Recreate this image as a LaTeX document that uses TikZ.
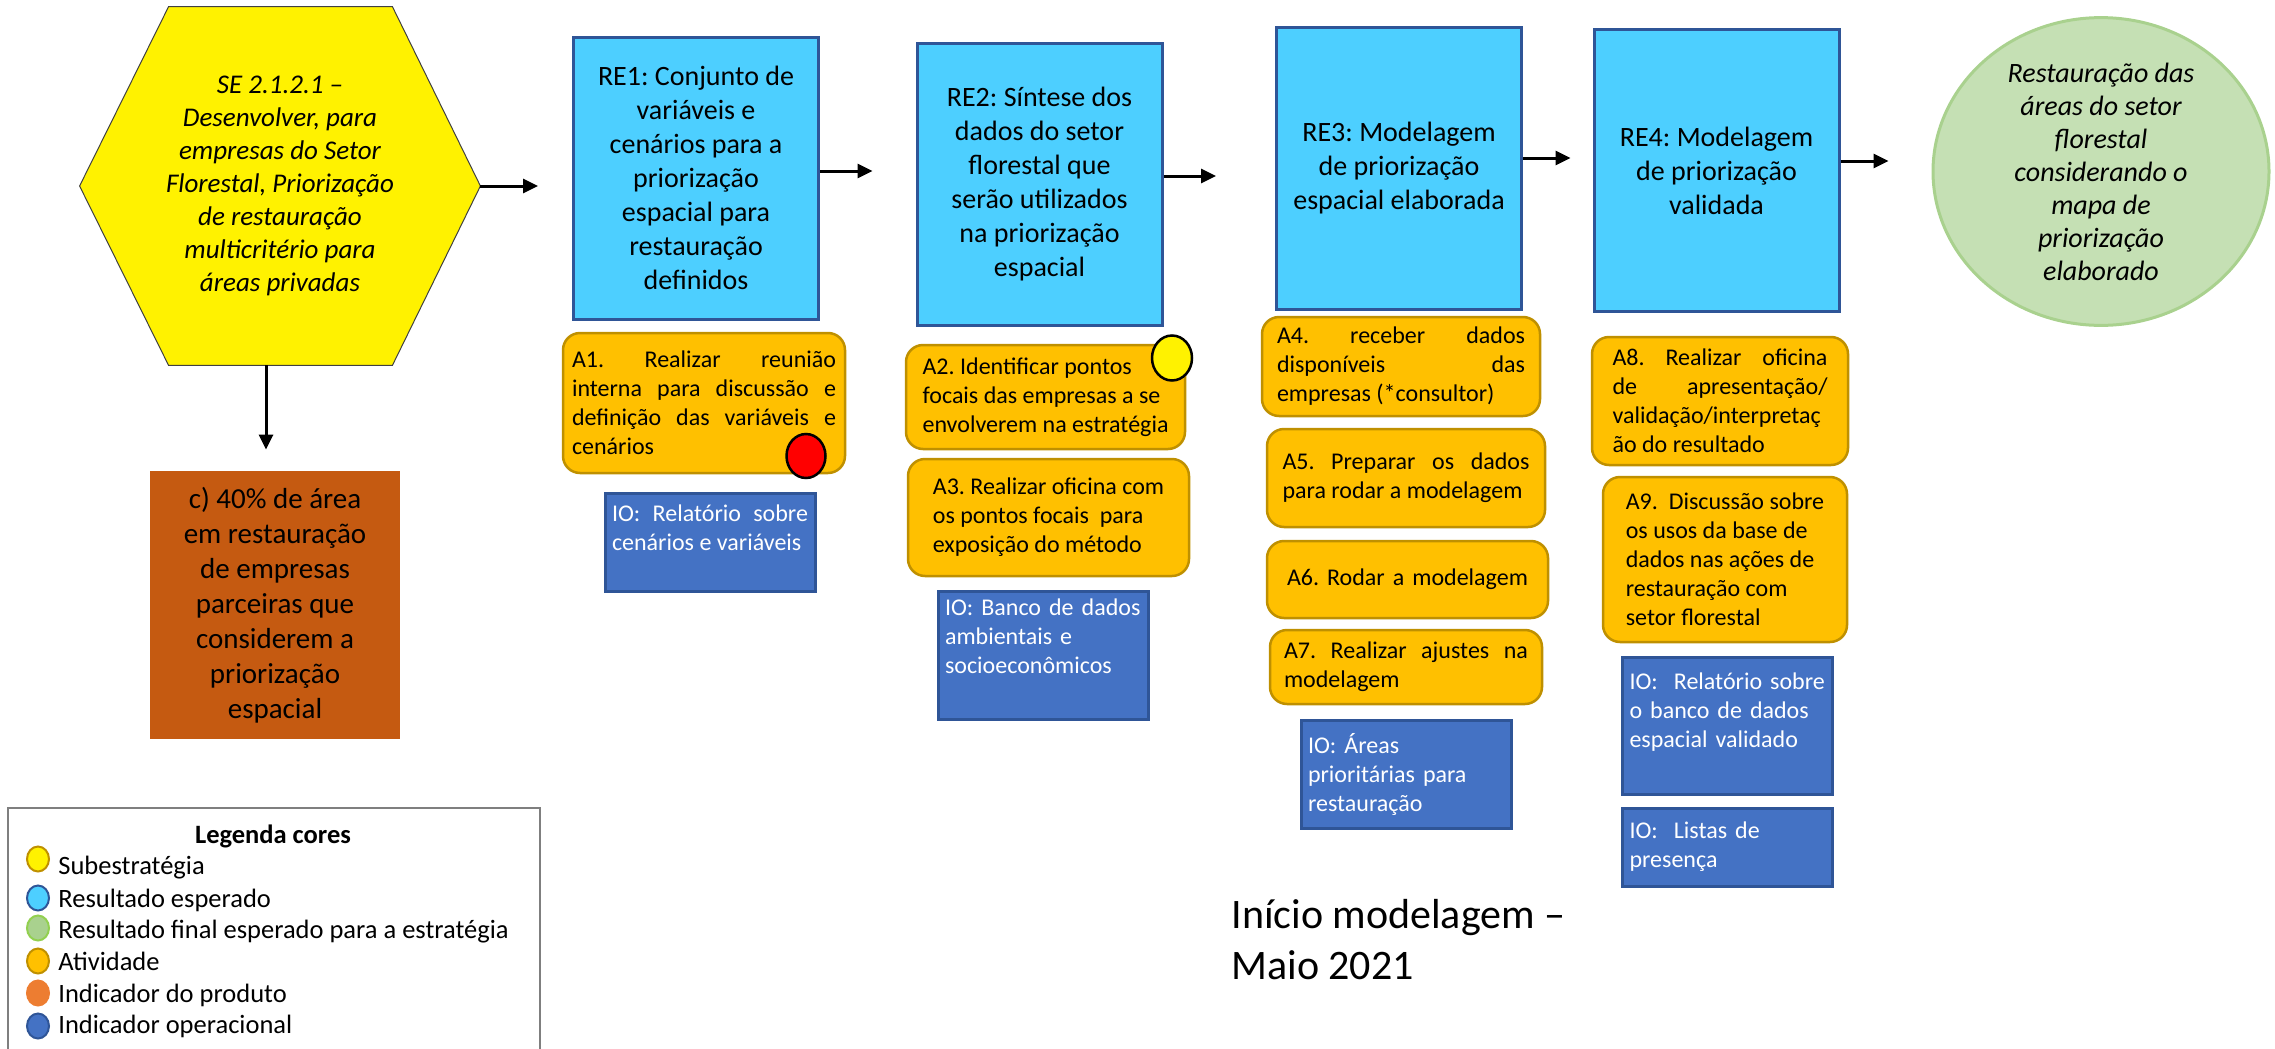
\documentclass[tikz,border=0pt]{standalone}
\usepackage{fontspec}
\setmainfont{Carlito}
\usepackage{tikz}
\usetikzlibrary{positioning, shapes.geometric, arrows.meta, backgrounds}

\definecolor{recyan}{HTML}{4DCFFF}
\definecolor{reborder}{HTML}{2F5597}
\definecolor{actfill}{HTML}{FFC000}
\definecolor{actborder}{HTML}{BF9000}
\definecolor{iofill}{HTML}{4472C4}
\definecolor{ioborder}{HTML}{2F5597}
\definecolor{indfill}{HTML}{C55A11}
\definecolor{endfill}{HTML}{C5E0B4}
\definecolor{endborder}{HTML}{A9D18E}
\definecolor{legborder}{HTML}{7F7F7F}
\definecolor{legorange}{HTML}{ED7D31}
\definecolor{leggreen}{HTML}{A9D18E}
\definecolor{leggreenb}{HTML}{92D050}

\frenchspacing
\hyphenpenalty=10000
\exhyphenpenalty=10000
\newcommand{\padbottom}[1]{\par\vspace*{#1}}

\tikzset{
    arr/.style={line width=1.5pt, -{Triangle[length=7.5pt,width=7pt]}},
    rebox/.style={draw=reborder, line width=1.5pt, fill=recyan, minimum width=122.5pt, minimum height=141pt, inner sep=0pt, align=center, font=\fontsize{14}{17}\selectfont},
    actbox/.style={draw=actborder, line width=1.25pt, fill=actfill, rounded corners=8.5pt, inner sep=0pt, font=\fontsize{12}{14.5}\selectfont},
    iobox/.style={draw=ioborder, line width=1.5pt, fill=iofill, text=white, inner sep=0pt, minimum width=105pt, text width=98pt, align=left, font=\fontsize{12}{14.5}\selectfont},
    markdot/.style={ellipse, draw=black, line width=1.25pt, inner sep=0pt},
    legdot/.style={ellipse, line width=1pt, minimum width=11pt, minimum height=12.5pt, inner sep=0pt},
    legtext/.style={anchor=base west, inner sep=0pt, font=\fontsize{13.25}{16}\selectfont},
}

\begin{document}
\begin{tikzpicture}[x=0.5pt, y=-0.5pt]
        \useasboundingbox (0,0) rectangle (2275,1049);

        % サブ戦略
        \node[minimum width=200pt, minimum height=179pt, inner sep=0pt, align=center, font=\itshape\fontsize{13.5}{16.5}\selectfont] (hex) at (280,186)
            {SE 2.1.2.1 –\\ Desenvolver, para\\ empresas do Setor\\ Florestal, Priorização\\ de restauração\\ multicritério para\\ áreas privadas};
        \begin{scope}[on background layer]
            \filldraw[fill=yellow, draw=black!75, line width=0.5pt] (hex.west) -- ([xshift=44.5pt]hex.north west) -- ([xshift=-44pt]hex.north east)
                -- (hex.east) -- ([xshift=-44pt]hex.south east) -- ([xshift=44.5pt]hex.south west) -- cycle;
        \end{scope}
        \node[fill=indfill, minimum width=125pt, minimum height=134pt, inner sep=0pt, align=center, font=\fontsize{14.5}{17.5}\selectfont] (ind) at (275,605)
            {c) 40\% de área\\ em restauração\\ de empresas\\ parceiras que\\ considerem a\\ priorização\\ espacial};

        % 期待される結果
        \node[rebox] (re1) at (696,178) {RE1: Conjunto de\\ variáveis e\\ cenários para a\\ priorização\\ espacial para\\ restauração\\ definidos};
        \node[rebox] (re2) at (1039.5,184.5) {RE2: Síntese dos\\ dados do setor\\ florestal que\\ serão utilizados\\ na priorização\\ espacial};
        \node[rebox] (re3) at (1399,168) {RE3: Modelagem\\ de priorização\\ espacial elaborada};
        \node[rebox] (re4) at (1716.5,170.5) {RE4: Modelagem\\ de priorização\\ validada};
        \node[ellipse, fill=endfill, draw=endborder, line width=1.5pt, minimum width=168pt, minimum height=145.5pt, inner sep=0pt, align=center, font=\itshape\fontsize{14}{16.5}\selectfont] (goal) at (2101,171.5)
            {Restauração das\\ áreas do setor\\ florestal\\ considerando o\\ mapa de\\ priorização\\ elaborado};

        % 矢印
        \draw[arr] (hex.east) -- ([xshift=-17pt, yshift=-4pt]re1.west);
        \draw[arr] ([yshift=3.5pt]re1.east) -- ([xshift=-21.5pt, yshift=6.75pt]re2.west);
        \draw[arr] ([yshift=4.25pt]re2.east) -- ([xshift=-29.5pt, yshift=-4pt]re3.west);
        \draw[arr] ([yshift=5pt]re3.east) -- ([xshift=-11pt, yshift=6.25pt]re4.west);
        \draw[arr] ([yshift=4.75pt]re4.east) -- ([xshift=-21.5pt, yshift=5.25pt]goal.west);
        \draw[arr] ([xshift=-7pt]hex.south) -- ([xshift=-4.5pt, yshift=10.5pt]ind.north);

        % 活動
        \node[actbox, minimum width=141pt, minimum height=70pt, text width=132pt, align=justify] (a1) at (704,403)
            {A1. Realizar reunião\linebreak interna para discussão e\linebreak definição das variáveis e\linebreak cenários};
        \node[actbox, minimum width=139.5pt, minimum height=52pt, align=left] (a2) at (1045.5,397)
            {A2. Identificar pontos\\ focais das empresas a se\\ envolverem na estratégia};
        \node[actbox, minimum width=140.5pt, minimum height=58.5pt, align=left] (a3) at (1048.5,517.5)
            {A3. Realizar oficina com\\ os pontos focais\ \ para\\ exposição do método};
        \node[actbox, minimum width=139pt, minimum height=49.5pt, text width=124pt, align=justify] (a4) at (1401,366.5)
            {A4. receber dados\linebreak disponíveis das\linebreak empresas (*consultor)};
        \node[actbox, minimum width=139pt, minimum height=49pt, text width=123.5pt, align=justify] (a5) at (1406,478)
            {A5. Preparar os dados\linebreak para rodar a modelagem\padbottom{9.5pt}};
        \node[actbox, minimum width=140.5pt, minimum height=38.5pt, text width=130pt, align=center] (a6) at (1407.5,579.5)
            {A6. Rodar a modelagem\padbottom{14.5pt}};
        \node[actbox, minimum width=136pt, minimum height=37pt, text width=122pt, align=justify] (a7) at (1406,667)
            {A7. Realizar ajustes na\linebreak modelagem};
        \node[actbox, minimum width=128pt, minimum height=64pt, text width=107.5pt, align=justify] (a8) at (1720,401)
            {A8. Realizar oficina\linebreak de apresentação/\linebreak validação/interpretaç\linebreak ão do resultado};
        \node[actbox, minimum width=122pt, minimum height=82.5pt, align=left] (a9) at (1725,559.5)
            {A9.\ \ Discussão sobre\\ os usos da base de\\ dados nas ações de\\ restauração com\\ setor florestal};

        \node[markdot, fill=red, minimum width=19.5pt, minimum height=22pt] (flagA1) at (806,456) {};
        \node[markdot, fill=yellow, minimum width=20pt, minimum height=22.5pt] (flagA2) at (1172,358) {};

        % 運用指標
        \node[iobox, minimum height=49pt, align=justify] (io1) at (710,542) {IO: Relatório sobre\linebreak cenários e variáveis\padbottom{14.5pt}};
        \node[iobox, minimum height=64pt] (io2) at (1043,655) {IO: Banco de dados\\ ambientais e\\ socioeconômicos\padbottom{18.5pt}};
        \node[iobox, minimum height=54pt] (io3) at (1406,774) {IO: Áreas\\ prioritárias para\\ restauração};
        \node[iobox, minimum height=68.5pt] (io4) at (1727.5,725.5) {IO:\ \ Relatório sobre\\ o banco de dados\\ espacial validado\padbottom{13.5pt}};
        \node[iobox, minimum height=39pt] (io5) at (1727.5,847) {IO:\ \ Listas de\\ presença};

        \node[anchor=base west, align=left, inner sep=0pt, font=\fontsize{21}{25.5}\selectfont] (inicio) at (1231,979) {Início modelagem –\\ Maio 2021};

        % 凡例
        \draw[legborder, line width=1pt] (8,1049) -- (8,808) -- (540,808) -- (540,1049);
        \node[anchor=base, inner sep=0pt, font=\bfseries\fontsize{13.25}{16}\selectfont] (legtitle) at (273,843) {Legenda cores};
        \foreach \yc/\yb/\fc/\dc/\txt [count=\i] in {859/874/yellow/actborder/Subestratégia, 898/907/recyan/reborder/Resultado esperado,
                928/938/leggreen/leggreenb/Resultado final esperado para a estratégia, 961/970/actfill/actborder/Atividade,
                993/1002/legorange/legorange/Indicador do produto, 1026/1033/iofill/ioborder/Indicador operacional} {
            \node[legdot, fill=\fc, draw=\dc] (legdot\i) at (38,\yc) {};
            \node[legtext] (legtxt\i) at (58,\yb) {\txt};
        }
    \end{tikzpicture}
\end{document}
